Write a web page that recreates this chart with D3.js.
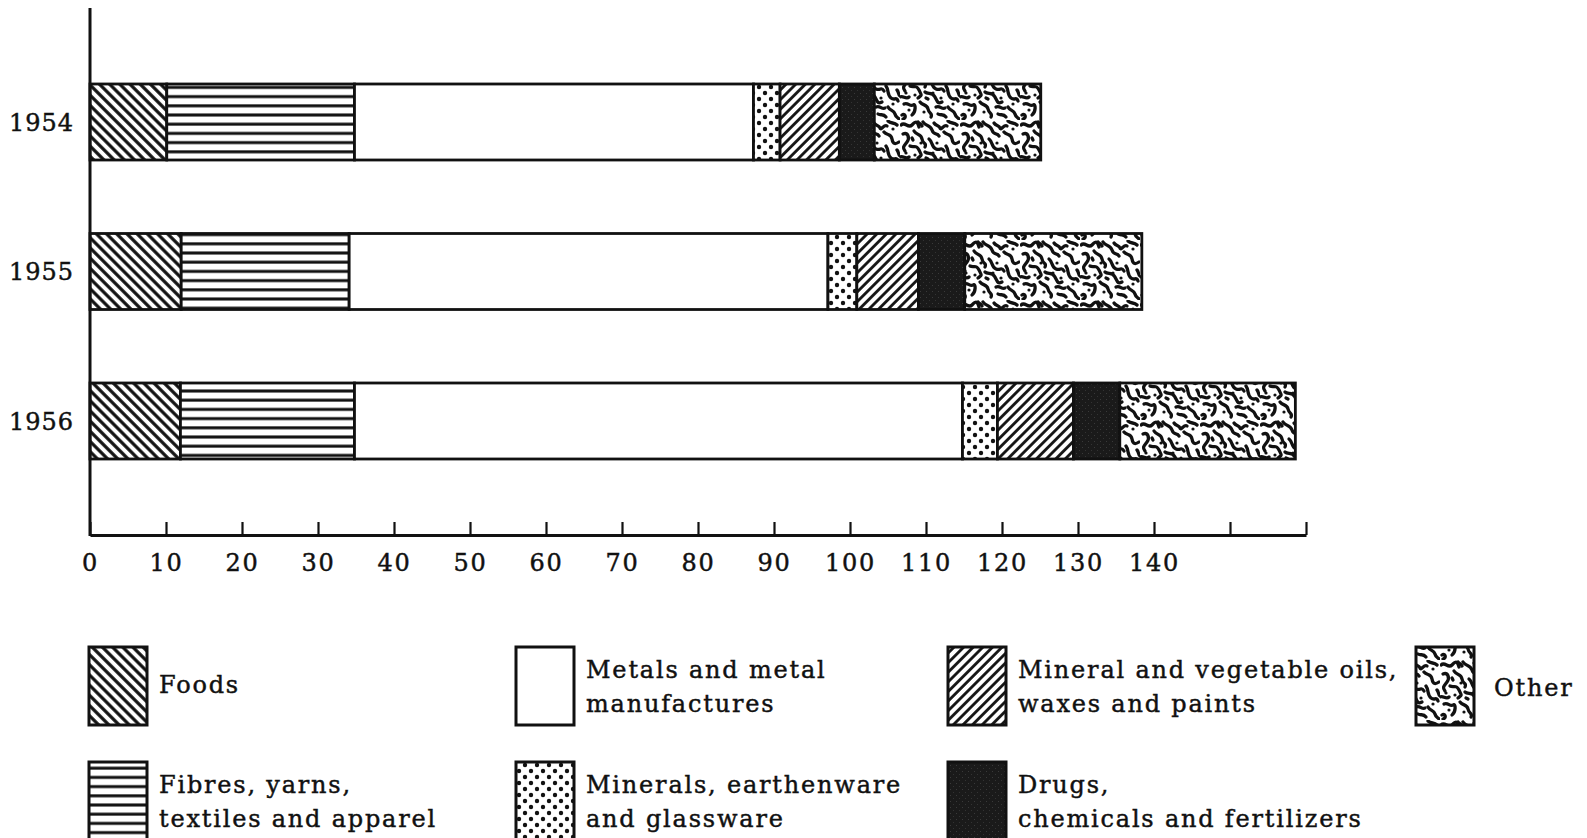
<!DOCTYPE html>
<html>
<head>
<meta charset="utf-8">
<script src="https://cdn.jsdelivr.net/npm/d3@7"></script>
<style>
  html, body { margin: 0; padding: 0; background: #fff; }
  svg { display: block; }
  text { font-family: "DejaVu Serif", "Liberation Serif", serif; fill: #111; stroke: #111; stroke-width: 0.45px; }
</style>
</head>
<body>
<svg id="chart" width="1587" height="838"></svg>
<script>
// ---------------- DATA ----------------
const years = ["1954", "1955", "1956"];
const categories = ["Foods", "Fibres", "Metals", "Minerals", "Oils", "Drugs", "Other"];
const foods    = [10.1, 12.0, 11.9];
const fibres   = [24.7, 22.1, 22.9];
const metals   = [52.5, 63.0, 80.0];
const minerals = [3.5, 3.8, 4.6];
const oils     = [7.8, 8.1, 10.0];
const drugs    = [4.6, 6.1, 6.1];
const other    = [21.9, 23.3, 23.1];
const tickValues = [0, 10, 20, 30, 40, 50, 60, 70, 80, 90, 100, 110, 120, 130, 140, 150, 160];
const tickLabels = ["0", "10", "20", "30", "40", "50", "60", "70", "80", "90", "100", "110", "120", "130", "140", "", ""];
const legendLabels = [
  ["Foods"],
  ["Fibres, yarns,", "textiles and apparel"],
  ["Metals and metal", "manufactures"],
  ["Minerals, earthenware", "and glassware"],
  ["Mineral and vegetable oils,", "waxes and paints"],
  ["Drugs,", "chemicals and fertilizers"],
  ["Other"]
];

const seriesValues = [foods, fibres, metals, minerals, oils, drugs, other];

// ---------------- SETUP ----------------
const svg = d3.select("#chart");
const defs = svg.append("defs");

function linePattern(id, angle, spacing, width) {
  const p = defs.append("pattern").attr("id", id)
    .attr("patternUnits", "userSpaceOnUse")
    .attr("width", spacing).attr("height", spacing)
    .attr("patternTransform", `rotate(${angle})`);
  p.append("rect").attr("width", spacing).attr("height", spacing).attr("fill", "#fff");
  p.append("line").attr("x1", spacing / 2).attr("x2", spacing / 2)
    .attr("y1", 0).attr("y2", spacing)
    .attr("stroke", "#111").attr("stroke-width", width);
}
linePattern("pFoods", -45, 7.2, 3.2);
linePattern("pOils", 45, 6.8, 2.8);
linePattern("pFibres", 90, 9.2, 3.0);

(function () {
  const p = defs.append("pattern").attr("id", "pMinerals")
    .attr("patternUnits", "userSpaceOnUse").attr("width", 12).attr("height", 12);
  p.append("rect").attr("width", 12).attr("height", 12).attr("fill", "#fff");
  [[3, 3], [9, 9]].forEach(([cx, cy]) =>
    p.append("circle").attr("cx", cx).attr("cy", cy).attr("r", 2.2).attr("fill", "#111"));
})();

(function () {
  const p = defs.append("pattern").attr("id", "pDrugs")
    .attr("patternUnits", "userSpaceOnUse").attr("width", 6).attr("height", 6);
  p.append("rect").attr("width", 6).attr("height", 6).attr("fill", "#1a1a1a");
  p.append("rect").attr("x", 2).attr("y", 3).attr("width", 1).attr("height", 1).attr("fill", "#3a3a3a");
  p.append("rect").attr("x", 5).attr("y", 0).attr("width", 1).attr("height", 1).attr("fill", "#333");
})();

(function () {
  const s = 60;
  const p = defs.append("pattern").attr("id", "pOther")
    .attr("patternUnits", "userSpaceOnUse").attr("width", s).attr("height", s);
  p.append("rect").attr("width", s).attr("height", s).attr("fill", "#fff");
  const worms = [
    "M1,5 C5,1 8,9 12,5 S17,1 19,7",
    "M23,2 C26,7 30,4 32,10 S37,12 39,16",
    "M3,14 C8,12 10,18 7,22 S2,27 5,31",
    "M14,11 C17,16 21,13 22,19 S27,22 25,27",
    "M29,19 C33,22 31,27 36,29 S41,26 44,31",
    "M10,26 C14,28 16,24 19,30 S22,35 18,38",
    "M25,32 C28,35 32,31 35,37 S38,44 42,42",
    "M0,37 C3,35 6,40 9,37",
    "M34,3 C36,6 39,5 40,8 S44,4 47,6",
    "M18,2 C19,4 21,3 22,6",
    "M44,12 C47,16 51,13 52,19 S56,24 59,22",
    "M48,1 C51,4 54,2 57,5",
    "M46,26 C49,30 47,35 51,38 S56,36 58,41",
    "M4,44 C8,42 10,47 13,45 S16,52 12,55",
    "M20,42 C23,46 27,44 28,49 S33,53 31,57",
    "M36,47 C40,45 42,50 45,48",
    "M48,47 C50,51 54,50 55,54 S58,57 59,59",
    "M2,55 C5,53 7,58 3,59",
    "M38,54 C41,56 43,53 46,57",
    "M57,30 C59,32 58,35 60,36",
    "M12,18 L13,20",
    "M26,38 L28,39"
  ];
  worms.forEach(d => p.append("path").attr("d", d)
    .attr("fill", "none").attr("stroke", "#111").attr("stroke-width", 3.3)
    .attr("stroke-linecap", "round").attr("stroke-linejoin", "round"));
  [[37, 23], [21, 23], [6, 33], [33, 33], [15, 35], [53, 9], [41, 38], [24, 52], [9, 50], [53, 44]].forEach(([cx, cy]) =>
    p.append("circle").attr("cx", cx).attr("cy", cy).attr("r", 1.6).attr("fill", "#111"));
})();

const fills = ["url(#pFoods)", "url(#pFibres)", "#fff", "url(#pMinerals)", "url(#pOils)", "url(#pDrugs)", "url(#pOther)"];

// scales
const x = d3.scaleLinear().domain([0, 160]).range([90, 1306]);
const y = d3.scalePoint().domain(years).range([122, 421]);
const barH = 76;

const rows = years.map((yr, i) => {
  const r = { year: yr };
  categories.forEach((c, j) => r[c] = seriesValues[j][i]);
  return r;
});
const stack = d3.stack().keys(categories)(rows);

// ---------------- BARS ----------------
const gBars = svg.append("g");
stack.forEach((layer, j) => {
  gBars.selectAll(null).data(layer).join("rect")
    .attr("x", d => x(d[0]))
    .attr("y", d => y(d.data.year) - barH / 2)
    .attr("width", d => x(d[1]) - x(d[0]))
    .attr("height", barH)
    .attr("fill", fills[j])
    .attr("stroke", "#111")
    .attr("stroke-width", 2.8);
});

// ---------------- AXES ----------------
const axisG = svg.append("g").attr("transform", `translate(0,535)`);
const xAxis = d3.axisBottom(x).tickValues(tickValues)
  .tickFormat((d, i) => tickLabels[i]).tickSizeInner(-13).tickSizeOuter(0).tickPadding(19);
axisG.call(xAxis);
axisG.select(".domain").attr("stroke", "#111").attr("stroke-width", 3);
axisG.selectAll(".tick line").attr("stroke", "#111").attr("stroke-width", 2.2);
axisG.selectAll(".tick text")
  .style("font-family", '"DejaVu Serif", serif')
  .style("font-size", "24px").style("letter-spacing", "1.8px")
  .attr("fill", "#111");

svg.append("line").attr("x1", 90).attr("x2", 90).attr("y1", 8).attr("y2", 536)
  .attr("stroke", "#111").attr("stroke-width", 3);

svg.append("g").selectAll("text").data(years).join("text")
  .attr("x", 74).attr("y", d => y(d))
  .attr("dy", "0.36em").attr("text-anchor", "end")
  .style("font-size", "24px").style("letter-spacing", "1px").text(d => d);

// ---------------- LEGEND ----------------
const legendCols = [89, 516, 948, 1416];
const legendRows = [647, 762];
const legendPos = [[0, 0], [0, 1], [1, 0], [1, 1], [2, 0], [2, 1], [3, 0]];
const boxW = 58, boxH = 78;
const lg = svg.append("g");
categories.forEach((c, j) => {
  const [ci, ri] = legendPos[j];
  const bx = legendCols[ci], by = legendRows[ri];
  lg.append("rect").attr("x", bx).attr("y", by).attr("width", boxW).attr("height", boxH)
    .attr("fill", fills[j]).attr("stroke", "#111").attr("stroke-width", 3);
  const lines = legendLabels[j];
  const tx = bx + boxW + (ci === 3 ? 20 : 12);
  const cy = by + boxH / 2 - (ci === 3 ? -3 : 0) - (lines.length === 1 ? 2 : 0);
  lines.forEach((t, k) => {
    lg.append("text").attr("x", tx)
      .attr("y", cy + (k - (lines.length - 1) / 2) * 34)
      .attr("dy", "0.36em")
      .style("font-size", "24px").style("letter-spacing", "1.8px").text(t);
  });
});
</script>
</body>
</html>
